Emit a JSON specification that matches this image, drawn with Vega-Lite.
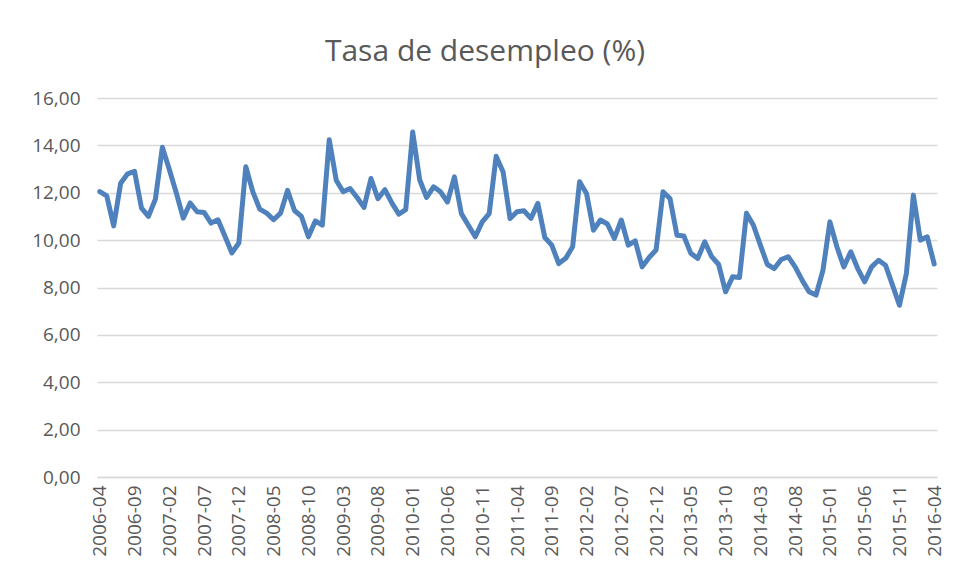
{
  "$schema": "https://vega.github.io/schema/vega-lite/v6.json",
  "autosize": "none",
  "width": 840,
  "height": 379,
  "padding": {"left": 97, "top": 98, "right": 16, "bottom": 94},
  "background": "white",
  "title": {
    "text": "Tasa de desempleo  (%)",
    "font": "Open Sans",
    "fontSize": 30,
    "fontWeight": "normal",
    "color": "#595959",
    "anchor": "middle",
    "frame": "group",
    "dx": -32,
    "dy": 38,
    "baseline": "bottom",
    "offset": 30
  },
  "data": {
    "values": [
      {"mes": "2006-04", "tasa": 12.05}, {"mes": "2006-05", "tasa": 11.87}, {"mes": "2006-06", "tasa": 10.6}, {"mes": "2006-07", "tasa": 12.4},
      {"mes": "2006-08", "tasa": 12.8}, {"mes": "2006-09", "tasa": 12.9}, {"mes": "2006-10", "tasa": 11.35}, {"mes": "2006-11", "tasa": 11.0},
      {"mes": "2006-12", "tasa": 11.73}, {"mes": "2007-01", "tasa": 13.92}, {"mes": "2007-02", "tasa": 12.98}, {"mes": "2007-03", "tasa": 12.0},
      {"mes": "2007-04", "tasa": 10.93}, {"mes": "2007-05", "tasa": 11.57}, {"mes": "2007-06", "tasa": 11.2}, {"mes": "2007-07", "tasa": 11.17},
      {"mes": "2007-08", "tasa": 10.72}, {"mes": "2007-09", "tasa": 10.86}, {"mes": "2007-10", "tasa": 10.16}, {"mes": "2007-11", "tasa": 9.46},
      {"mes": "2007-12", "tasa": 9.88}, {"mes": "2008-01", "tasa": 13.1}, {"mes": "2008-02", "tasa": 12.05}, {"mes": "2008-03", "tasa": 11.31},
      {"mes": "2008-04", "tasa": 11.14}, {"mes": "2008-05", "tasa": 10.86}, {"mes": "2008-06", "tasa": 11.14}, {"mes": "2008-07", "tasa": 12.1},
      {"mes": "2008-08", "tasa": 11.25}, {"mes": "2008-09", "tasa": 11.0}, {"mes": "2008-10", "tasa": 10.14}, {"mes": "2008-11", "tasa": 10.81},
      {"mes": "2008-12", "tasa": 10.63}, {"mes": "2009-01", "tasa": 14.24}, {"mes": "2009-02", "tasa": 12.53}, {"mes": "2009-03", "tasa": 12.04},
      {"mes": "2009-04", "tasa": 12.18}, {"mes": "2009-05", "tasa": 11.8}, {"mes": "2009-06", "tasa": 11.38}, {"mes": "2009-07", "tasa": 12.6},
      {"mes": "2009-08", "tasa": 11.75}, {"mes": "2009-09", "tasa": 12.13}, {"mes": "2009-10", "tasa": 11.57}, {"mes": "2009-11", "tasa": 11.1},
      {"mes": "2009-12", "tasa": 11.29}, {"mes": "2010-01", "tasa": 14.56}, {"mes": "2010-02", "tasa": 12.55}, {"mes": "2010-03", "tasa": 11.8},
      {"mes": "2010-04", "tasa": 12.25}, {"mes": "2010-05", "tasa": 12.04}, {"mes": "2010-06", "tasa": 11.61}, {"mes": "2010-07", "tasa": 12.67},
      {"mes": "2010-08", "tasa": 11.12}, {"mes": "2010-09", "tasa": 10.63}, {"mes": "2010-10", "tasa": 10.14}, {"mes": "2010-11", "tasa": 10.77},
      {"mes": "2010-12", "tasa": 11.12}, {"mes": "2011-01", "tasa": 13.54}, {"mes": "2011-02", "tasa": 12.88}, {"mes": "2011-03", "tasa": 10.91},
      {"mes": "2011-04", "tasa": 11.2}, {"mes": "2011-05", "tasa": 11.24}, {"mes": "2011-06", "tasa": 10.92}, {"mes": "2011-07", "tasa": 11.55},
      {"mes": "2011-08", "tasa": 10.11}, {"mes": "2011-09", "tasa": 9.79}, {"mes": "2011-10", "tasa": 9.01}, {"mes": "2011-11", "tasa": 9.23},
      {"mes": "2011-12", "tasa": 9.72}, {"mes": "2012-01", "tasa": 12.46}, {"mes": "2012-02", "tasa": 11.97}, {"mes": "2012-03", "tasa": 10.42},
      {"mes": "2012-04", "tasa": 10.85}, {"mes": "2012-05", "tasa": 10.68}, {"mes": "2012-06", "tasa": 10.07}, {"mes": "2012-07", "tasa": 10.85},
      {"mes": "2012-08", "tasa": 9.79}, {"mes": "2012-09", "tasa": 9.97}, {"mes": "2012-10", "tasa": 8.87}, {"mes": "2012-11", "tasa": 9.27},
      {"mes": "2012-12", "tasa": 9.58}, {"mes": "2013-01", "tasa": 12.04}, {"mes": "2013-02", "tasa": 11.76}, {"mes": "2013-03", "tasa": 10.21},
      {"mes": "2013-04", "tasa": 10.17}, {"mes": "2013-05", "tasa": 9.44}, {"mes": "2013-06", "tasa": 9.23}, {"mes": "2013-07", "tasa": 9.93},
      {"mes": "2013-08", "tasa": 9.3}, {"mes": "2013-09", "tasa": 8.97}, {"mes": "2013-10", "tasa": 7.82}, {"mes": "2013-11", "tasa": 8.45},
      {"mes": "2013-12", "tasa": 8.42}, {"mes": "2014-01", "tasa": 11.13}, {"mes": "2014-02", "tasa": 10.63}, {"mes": "2014-03", "tasa": 9.79},
      {"mes": "2014-04", "tasa": 8.97}, {"mes": "2014-05", "tasa": 8.8}, {"mes": "2014-06", "tasa": 9.18}, {"mes": "2014-07", "tasa": 9.3},
      {"mes": "2014-08", "tasa": 8.87}, {"mes": "2014-09", "tasa": 8.31}, {"mes": "2014-10", "tasa": 7.82}, {"mes": "2014-11", "tasa": 7.68},
      {"mes": "2014-12", "tasa": 8.73}, {"mes": "2015-01", "tasa": 10.77}, {"mes": "2015-02", "tasa": 9.72}, {"mes": "2015-03", "tasa": 8.87},
      {"mes": "2015-04", "tasa": 9.51}, {"mes": "2015-05", "tasa": 8.8}, {"mes": "2015-06", "tasa": 8.24}, {"mes": "2015-07", "tasa": 8.87},
      {"mes": "2015-08", "tasa": 9.15}, {"mes": "2015-09", "tasa": 8.94}, {"mes": "2015-10", "tasa": 8.1}, {"mes": "2015-11", "tasa": 7.25},
      {"mes": "2015-12", "tasa": 8.59}, {"mes": "2016-01", "tasa": 11.9}, {"mes": "2016-02", "tasa": 10.0}, {"mes": "2016-03", "tasa": 10.14},
      {"mes": "2016-04", "tasa": 8.99}
    ]
  },
  "mark": {"type": "line", "color": "#4F81BD", "strokeWidth": 5, "strokeJoin": "round", "strokeCap": "round"},
  "encoding": {
    "x": {
      "field": "mes",
      "type": "ordinal",
      "sort": null,
      "scale": {"type": "point", "padding": 0.4},
      "axis": {
        "title": null,
        "values": ["2006-04","2006-09","2007-02","2007-07","2007-12","2008-05","2008-10","2009-03","2009-08","2010-01","2010-06","2010-11","2011-04","2011-09","2012-02","2012-07","2012-12","2013-05","2013-10","2014-03","2014-08","2015-01","2015-06","2015-11","2016-04"],
        "labelAngle": -90,
        "labelAlign": "right",
        "labelBaseline": "middle",
        "labelFont": "Open Sans",
        "labelFontSize": 19,
        "labelColor": "#595959",
        "labelPadding": 8,
        "labelOverlap": false,
        "ticks": false,
        "grid": false,
        "domain": true,
        "domainColor": "#D9D9D9",
        "domainWidth": 1.3
      }
    },
    "y": {
      "field": "tasa",
      "type": "quantitative",
      "scale": {"domain": [0, 16], "nice": false, "zero": true},
      "axis": {
        "title": null,
        "values": [0, 2, 4, 6, 8, 10, 12, 14, 16],
        "labelExpr": "replace(format(datum.value, '.2f'), '.', ',')",
        "labelFont": "Open Sans",
        "labelFontSize": 19,
        "labelColor": "#595959",
        "labelPadding": 17,
        "ticks": false,
        "domain": false,
        "grid": true,
        "gridColor": "#D9D9D9",
        "gridWidth": 1.3
      }
    }
  },
  "config": {"view": {"stroke": null}}
}
